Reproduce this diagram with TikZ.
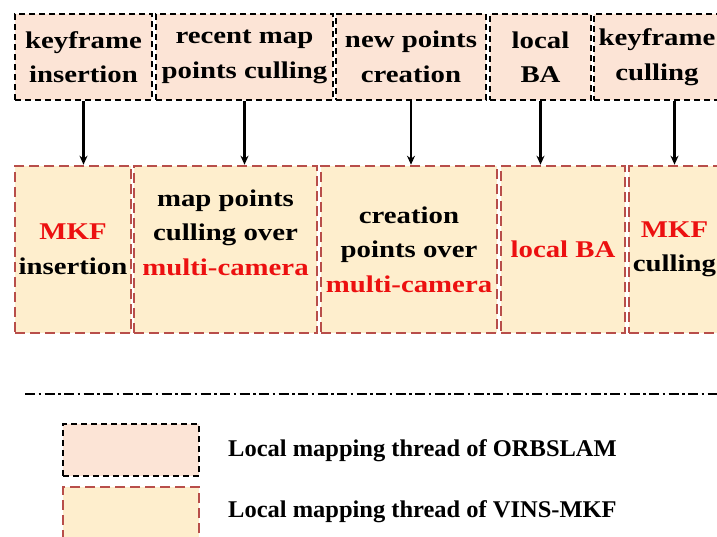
\documentclass[tikz,border=0pt]{standalone}
\usepackage{fontspec}
\setmainfont{Liberation Serif}
\newfontfamily\boxfont[FakeStretch=1.2]{Liberation Serif}
\newfontfamily\legfont[FakeStretch=1.02]{Liberation Serif}
\usetikzlibrary{arrows.meta}

\definecolor{orbfill}{RGB}{252,228,214}
\definecolor{vinsfill}{RGB}{254,238,205}
\definecolor{vinsline}{RGB}{184,78,74}
\definecolor{hlred}{RGB}{236,16,16}
\newcommand{\hl}[1]{\textcolor{hlred}{#1}}

\tikzset{
  orbbox/.style={draw=black, fill=orbfill, dash pattern=on 6pt off 4pt,
    line width=2.4pt, inner sep=0pt, align=center,
    font=\boxfont\bfseries\fontsize{24}{34.5}\selectfont, minimum height=86pt},
  vinsbox/.style={draw=vinsline, fill=vinsfill, dash pattern=on 10pt off 5pt,
    line width=2.6pt, inner sep=0pt, align=center,
    font=\boxfont\bfseries\fontsize{24}{34.5}\selectfont, minimum height=167pt},
  flow/.style={draw=black, line width=2.2pt, -{Stealth[length=9pt,width=8pt]}},
  sepline/.style={draw=black, line width=2.5pt,
    dash pattern=on 10pt off 3.5pt on 2.5pt off 3.5pt},
  legtext/.style={anchor=west, inner sep=0pt,
    font=\legfont\bfseries\fontsize{24}{28}\selectfont},
}

\begin{document}
\begin{tikzpicture}[x=1pt,y=-1pt]
\useasboundingbox (0,0) rectangle (717,536);
\clip (0,0) rectangle (717,536);
\fill[white] (0,0) rectangle (717,536);

% ORBSLAM local mapping steps
\node[orbbox, minimum width=137pt] (t1) at (83.5,57) {keyframe\\insertion};
\node[orbbox, minimum width=177pt] (t2) at (244.5,57) {recent map\\points culling};
\node[orbbox, minimum width=150pt] (t3) at (411,57) {new points\\creation};
\node[orbbox, minimum width=101pt] (t4) at (540.5,57) {local\\BA};
\node[orbbox, minimum width=126pt] (t5) at (657,57) {keyframe\\culling};

% VINS-MKF local mapping steps
\node[vinsbox, minimum width=116pt] (b1) at (73,249.5) {\hl{MKF}\\insertion};
\node[vinsbox, minimum width=183pt, text depth=34pt] (b2) at (225.5,249.5)
  {map points\\culling over\\\hl{multi-camera}};
\node[vinsbox, minimum width=176pt] (b3) at (409,249.5)
  {creation\\points over\\\hl{multi-camera}};
\node[vinsbox, minimum width=124pt] (b4) at (563,249.5) {\hl{local BA}};
\node[vinsbox, minimum width=91pt] (b5) at (674.5,249.5) {\hl{MKF}\\culling};

% correspondences
\draw[flow] (t1.south) -- (t1.south |- b1.north);
\draw[flow] (t2.south) -- (t2.south |- b2.north);
\draw[flow] (t3.south) -- (t3.south |- b3.north);
\draw[flow] (t4.south) -- (t4.south |- b4.north);
\draw[flow] (b5.north |- t5.south) -- (b5.north);

% separator
\coordinate (sepL) at (25,394);
\coordinate (sepR) at (720,394);
\draw[sepline] (sepL) -- (sepR);

% legend
\node[orbbox, minimum width=136pt, minimum height=52pt] (l1) at (131,450) {};
\node[vinsbox, minimum width=136pt, minimum height=60pt] (l2) at (131,517) {};
\node[legtext] (lt1) at (228,451) {Local mapping thread of ORBSLAM};
\node[legtext] (lt2) at (228,512) {Local mapping thread of VINS-MKF};
\end{tikzpicture}
\end{document}
